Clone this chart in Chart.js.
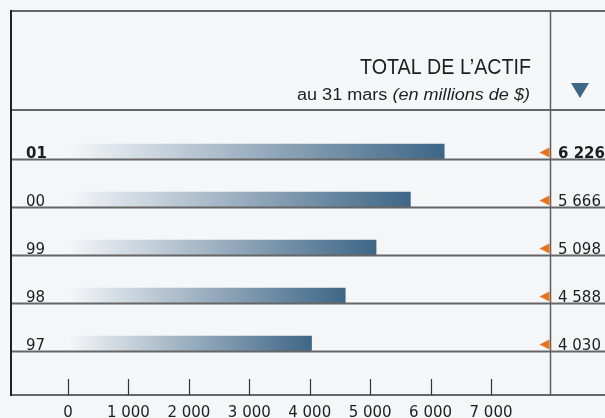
<!DOCTYPE html>
<html>
<head>
<meta charset="utf-8">
<script src="https://cdn.jsdelivr.net/npm/chart.js@4/dist/chart.umd.min.js"></script>
<style>
  html, body { margin: 0; padding: 0; background: #f5f6f8; }
  #wrap { width: 605px; height: 418px; }
</style>
</head>
<body>
<div id="wrap"><canvas id="c" width="605" height="418"></canvas></div>
<script>
// ---- data ----
const years = ['01', '00', '99', '98', '97'];
const totals = [6226, 5666, 5098, 4588, 4030];
const tickValues = [0, 1000, 2000, 3000, 4000, 5000, 6000, 7000];
const titleText = 'TOTAL DE L\u2019ACTIF';
const subtitleNormal = 'au 31 mars ';
const subtitleItalic = '(en millions de $)';

const BG = '#f5f6f8';
const BAR_DARK = '#3e6686';
const ORANGE = '#e8731e';
const LINE = '#666666';
const TEXT = '#1e1e1e';

function fmt(v) {
  return String(v).replace(/\B(?=(\d{3})+(?!\d))/g, '\u00a0');
}

const framePlugin = {
  id: 'frame',
  beforeDraw(chart) {
    const ctx = chart.ctx;
    ctx.save();
    ctx.fillStyle = BG;
    ctx.fillRect(0, 0, chart.width, chart.height);
    ctx.restore();
  },
  afterDatasetsDraw(chart) {
    const ctx = chart.ctx;
    const xs = chart.scales.x, ys = chart.scales.y;
    const W = chart.width;
    const yBottom = 395;
    ctx.save();
    ctx.strokeStyle = LINE; ctx.lineWidth = 2;
    ctx.beginPath(); ctx.moveTo(10, 11); ctx.lineTo(W, 11); ctx.stroke();
    ctx.beginPath(); ctx.moveTo(10, 110); ctx.lineTo(W, 110); ctx.stroke();
    years.forEach((y, i) => {
      const py = ys.getPixelForValue(i) + 8;
      ctx.beginPath(); ctx.moveTo(10, py); ctx.lineTo(W, py); ctx.stroke();
    });
    ctx.beginPath(); ctx.moveTo(10, yBottom); ctx.lineTo(W, yBottom); ctx.stroke();
    ctx.strokeStyle = '#222'; ctx.lineWidth = 2;
    ctx.beginPath(); ctx.moveTo(11, 10); ctx.lineTo(11, yBottom + 1); ctx.stroke();
    ctx.strokeStyle = '#606060'; ctx.lineWidth = 1.5;
    ctx.beginPath(); ctx.moveTo(550.5, 10); ctx.lineTo(550.5, yBottom); ctx.stroke();
    ctx.strokeStyle = '#333'; ctx.lineWidth = 1.2;
    tickValues.forEach(v => {
      const px = Math.round(xs.getPixelForValue(v)) + 0.5;
      ctx.beginPath(); ctx.moveTo(px, 379); ctx.lineTo(px, yBottom); ctx.stroke();
    });
    years.forEach((y, i) => {
      const cy = ys.getPixelForValue(i) + 1;
      ctx.fillStyle = ORANGE;
      ctx.beginPath();
      ctx.moveTo(539.5, cy); ctx.lineTo(549.5, cy - 5); ctx.lineTo(549.5, cy + 5); ctx.closePath();
      ctx.fill();
      ctx.fillStyle = TEXT;
      ctx.font = (i === 0 ? 'bold ' : '') + '15px "DejaVu Sans"';
      ctx.textAlign = 'left'; ctx.textBaseline = 'alphabetic';
      ctx.fillText(fmt(totals[i]), 558, ys.getPixelForValue(i) + 6.5);
    });
    ctx.fillStyle = BAR_DARK;
    ctx.beginPath(); ctx.moveTo(571, 83); ctx.lineTo(589, 83); ctx.lineTo(580, 98); ctx.closePath(); ctx.fill();
    ctx.fillStyle = TEXT;
    ctx.textBaseline = 'alphabetic'; ctx.textAlign = 'right';
    ctx.font = '22px "Liberation Sans"';
    ctx.fillText(titleText, 531, 74, 171);
    ctx.textAlign = 'left';
    ctx.font = '16px "Liberation Sans"';
    const w1 = ctx.measureText(subtitleNormal).width;
    ctx.font = 'italic 16px "Liberation Sans"';
    const w2 = ctx.measureText(subtitleItalic).width;
    const s = 233 / (w1 + w2);
    ctx.translate(530 - (w1 + w2) * s, 100);
    ctx.scale(s, 1);
    ctx.font = '16px "Liberation Sans"';
    ctx.fillText(subtitleNormal, 0, 0);
    ctx.font = 'italic 16px "Liberation Sans"';
    ctx.fillText(subtitleItalic, w1, 0);
    ctx.restore();
  }
};

new Chart(document.getElementById('c'), {
  type: 'bar',
  data: {
    labels: years,
    datasets: [{
      data: totals,
      barThickness: 15,
      borderWidth: 0,
      backgroundColor: (c) => {
        const chart = c.chart;
        if (!chart.chartArea || !chart.scales.x) return BAR_DARK;
        const xs = chart.scales.x;
        const x0 = xs.getPixelForValue(0);
        const x1 = xs.getPixelForValue(c.raw);
        const g = chart.ctx.createLinearGradient(x0, 0, x1, 0);
        g.addColorStop(0, 'rgba(245,246,248,1)');
        g.addColorStop(1, BAR_DARK);
        return g;
      }
    }]
  },
  options: {
    indexAxis: 'y',
    responsive: false,
    animation: false,
    layout: { padding: { top: 127.5, left: 26, right: 114, bottom: 0 } },
    plugins: { legend: { display: false }, tooltip: { enabled: false } },
    scales: {
      x: {
        min: 0, max: 7000,
        afterBuildTicks(scale) { scale.ticks = tickValues.map(v => ({ value: v })); },
        ticks: {
          callback: (v) => fmt(v),
          font: { family: 'DejaVu Sans', size: 15 },
          color: TEXT, padding: 37, maxRotation: 0, autoSkip: false
        },
        grid: { display: false, drawTicks: false },
        border: { display: false },
        afterFit(s) { s.height = 50.5; }
      },
      y: {
        ticks: {
          crossAlign: 'far',
          padding: 0,
          labelOffset: 2.5,
          color: TEXT,
          font: (c) => ({ family: 'DejaVu Sans', size: 15, weight: c.index === 0 ? 'bold' : 'normal' })
        },
        grid: { display: false, drawTicks: false },
        border: { display: false },
        afterFit(s) { s.width = 42; }
      }
    }
  },
  plugins: [framePlugin]
});
</script>
</body>
</html>
